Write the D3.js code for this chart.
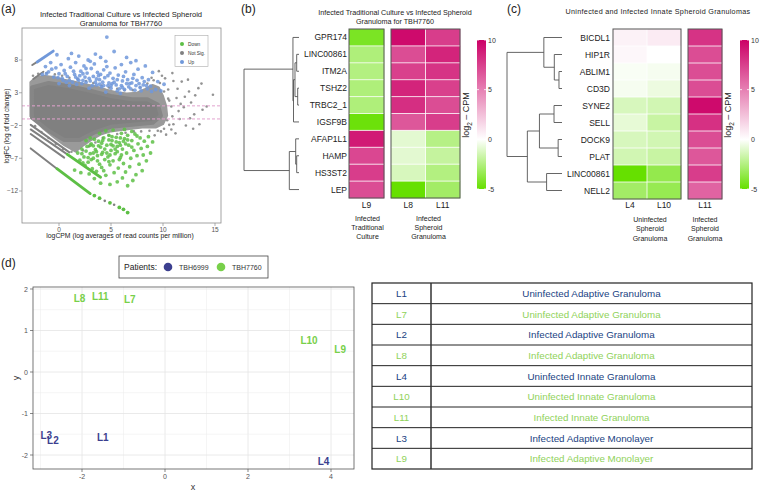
<!DOCTYPE html>
<html><head><meta charset="utf-8">
<script src="https://cdn.jsdelivr.net/npm/d3@7"></script>
<style>body{margin:0;background:#fff;} svg{display:block;font-family:"Liberation Sans",Arial,sans-serif;}</style>
</head><body><svg id="c" width="760" height="491"></svg>
<script>
// ---------------- DATA ----------------
// (a) MA plot
const maGroups = ["Down","Not Sig.","Up"];
const maUp = [[-1.6,5.8],[-1.3,7.0],[-1.0,6.2],[-0.8,7.6],[-0.5,5.4],[-0.3,6.8],[0.0,5.9],[0.2,7.3],[0.4,4.9],[0.5,6.4],[0.8,5.5],[0.9,8.2],[1.1,6.9],[1.3,4.6],[1.5,5.8],[1.6,7.6],[1.8,5.1],[1.9,8.6],[2.1,6.3],[2.2,4.4],[2.4,7.1],[2.5,5.4],[2.7,6.0],[2.8,8.0],[3.0,4.8],[3.1,6.7],[3.3,5.5],[3.4,7.4],[3.6,4.2],[3.7,6.1],[3.9,5.0],[4.0,8.4],[4.1,3.9],[4.3,6.5],[4.4,5.3],[4.6,11.5],[4.6,7.0],[4.8,4.5],[4.9,6.0],[5.0,3.7],[5.2,5.2],[5.3,9.3],[5.4,6.8],[5.5,4.2],[5.7,5.7],[5.8,3.6],[6.0,7.3],[6.1,4.8],[6.3,3.5],[6.4,6.2],[6.6,5.0],[6.7,3.9],[6.9,7.6],[7.0,4.5],[7.2,5.8],[7.3,3.4],[7.5,4.9],[7.6,6.6],[7.8,3.8],[8.0,5.3],[8.1,4.2],[8.3,7.1],[8.5,3.6],[8.6,5.0],[8.8,4.0],[9.0,6.1],[9.3,3.5],[9.5,4.7],[9.8,3.3],[10.1,4.3],[-0.2,8.8],[1.2,9.0],[3.5,8.9],[6.5,8.4],[7.4,7.9],[2.9,3.7],[1.0,4.1],[0.0,4.4],[5.9,2.9],[4.5,3.1],[0.6,5.9],[1.7,4.3],[2.3,5.9],[3.2,4.1],[3.8,5.6],[4.2,4.6],[4.7,5.6],[5.1,4.4],[5.6,5.0],[6.2,5.5],[6.8,4.4],[7.1,5.2],[7.7,4.4],[8.2,4.7],[2.6,6.7],[1.4,6.3],[-0.7,6.6],[3.0,7.8],[4.5,7.8],[0.3,5.2],[0.7,4.6],[1.9,4.9],[2.0,5.6],[2.6,4.6],[3.5,4.6],[3.9,4.3],[4.0,5.8],[4.7,4.1],[5.3,4.6],[5.6,3.3],[6.0,4.1],[6.5,4.4],[6.9,3.6],[7.4,4.1],[7.9,3.3],[8.4,4.1],[8.9,3.2],[1.6,5.4],[2.9,5.2],[3.6,5.1],[4.3,4.1],[5.0,4.1],[6.1,3.8],[-1.2,5.9],[-0.1,5.3],[1.0,4.9],[2.3,4.9]];
const maDown = [[1.8,-6.2],[2.0,-7.3],[2.2,-5.6],[2.4,-6.8],[2.5,-8.1],[2.7,-5.2],[2.8,-7.6],[3.0,-6.3],[3.1,-4.8],[3.2,-8.6],[3.3,-7.0],[3.5,-5.7],[3.6,-9.0],[3.7,-6.6],[3.8,-4.4],[3.9,-7.9],[4.0,-5.3],[4.1,-8.4],[4.2,-6.1],[4.3,-3.9],[4.4,-7.2],[4.5,-9.6],[4.6,-5.0],[4.7,-6.8],[4.8,-3.5],[4.9,-8.0],[5.0,-5.8],[5.1,-4.3],[5.2,-2.7],[5.2,-7.4],[5.3,-9.2],[5.4,-6.3],[5.5,-3.8],[5.6,-5.2],[5.7,-8.5],[5.8,-4.6],[5.9,-6.9],[6.0,-3.2],[6.1,-10.0],[6.1,-5.6],[6.2,-7.8],[6.3,-4.0],[6.4,-9.1],[6.5,-6.2],[6.6,-3.5],[6.7,-5.0],[6.8,-8.3],[6.9,-7.0],[7.0,-4.3],[7.1,-10.4],[7.2,-5.8],[7.3,-3.3],[7.4,-9.5],[7.5,-6.6],[7.6,-4.8],[7.7,-7.9],[7.8,-3.9],[7.9,-5.5],[8.0,-8.9],[8.1,-6.5],[8.2,-4.4],[8.4,-7.4],[8.5,-5.2],[8.6,-3.7],[8.8,-6.2],[9.0,-4.5],[2.9,-9.4],[3.4,-10.1],[4.0,-10.8],[4.9,-11.0],[5.6,-10.6],[6.6,-11.2],[1.5,-8.8],[2.1,-9.2],[3.0,-3.9],[3.9,-3.2],[4.5,-2.8],[6.3,-2.6],[7.0,-2.9],[2.6,-4.3],[3.3,-5.1],[4.1,-4.7],[4.6,-6.2],[5.0,-4.9],[5.4,-5.6],[3.6,-6.0],[2.3,-7.7],[4.3,-8.9],[5.8,-7.2],[6.4,-4.8],[3.1,-7.2],[4.8,-7.5],[3.4,-4.1],[3.8,-5.1],[4.2,-4.3],[4.4,-5.6],[4.8,-4.2],[5.1,-3.7],[5.5,-4.5],[5.9,-3.9],[6.2,-4.4],[6.6,-4.2],[3.0,-5.0],[2.6,-5.9],[3.3,-6.2],[4.1,-6.4],[4.9,-6.5],[5.6,-6.0],[6.0,-6.5],[7.0,-5.3],[7.5,-3.6],[2.2,-6.3],[2.8,-6.9],[3.7,-7.4],[5.2,-5.1],[5.9,-5.0]];
const maNSsparse = [[10.5,3.5],[11.0,4.8],[11.3,2.2],[11.6,-1.0],[11.8,4.7],[12.0,0.8],[12.2,-2.0],[12.5,3.2],[12.7,1.5],[13.0,-0.3],[13.1,2.6],[13.4,3.7],[13.5,-1.8],[13.8,0.4],[14.2,0.9],[14.8,2.7],[10.8,-2.6],[11.2,-3.2],[10.2,5.2],[9.6,6.3],[12.4,5.0],[11.5,0.2],[10.6,1.8],[10.4,-1.2],[12.9,-2.5],[13.7,4.4],[9.2,-3.5],[9.8,-2.9],[10.9,6.0],[-2.5,5.6],[-2.0,5.9],[-1.2,6.0],[-0.4,5.8],[0.3,5.6],[1.0,5.3],[1.8,5.1],[2.6,4.8],[3.3,4.5],[4.1,4.1],[4.8,3.8],[5.6,3.6],[6.3,3.4],[7.1,3.4],[7.8,3.8],[8.5,4.4],[9.1,4.9],[9.7,4.5],[10.1,3.2],[10.5,2.1],[10.8,0.9],[10.9,-0.6],[10.6,-1.9],[10.1,-2.5],[9.5,-2.8],[8.7,-2.8],[7.9,-2.9],[7.2,-2.9],[6.4,-3.1],[5.6,-3.3],[4.8,-3.5],[4.2,-3.9],[3.5,-4.6],[2.9,-5.2],[2.3,-5.8],[1.2,-6.0],[0.4,-5.6],[-0.3,-4.8],[-1.0,-3.9],[-1.7,-3.0],[-2.3,-2.1],[11.4,3.6],[12.1,2.4],[11.0,-1.8],[9.9,5.6],[8.9,5.3],[11.7,1.3],[10.3,-3.4],[12.6,-0.9]];
const maCloudOuter = [[-2.75,4.6],[-2.3,5.3],[-1.5,5.6],[-0.5,5.4],[0.5,5.0],[1.5,4.7],[2.5,4.3],[3.5,4.0],[4.5,3.5],[5.5,3.1],[6.5,2.9],[7.5,3.0],[8.3,3.6],[9.0,4.2],[9.6,3.8],[10.0,2.5],[10.3,1.0],[10.4,-0.5],[10.0,-1.8],[9.3,-2.3],[8.0,-2.3],[7.0,-2.5],[6.0,-2.7],[5.0,-2.9],[4.0,-3.4],[3.0,-4.3],[2.2,-5.2],[1.6,-6.0],[0.5,-5.0],[-0.5,-3.8],[-1.5,-2.5],[-2.3,-1.2],[-2.75,-0.6]];
const maCloudCore = [[-2.6,3.8],[-1.0,4.5],[1.0,4.0],[3.0,3.3],[5.0,2.5],[7.0,2.0],[8.5,2.0],[9.5,1.2],[9.8,-0.5],[9.0,-1.6],[7.0,-1.9],[5.0,-2.2],[3.5,-3.0],[2.0,-4.2],[0.5,-4.2],[-1.0,-2.8],[-2.6,-0.8]];
// low-count diagonal streaks: [start, end, group]
const maStreakFrom = [[-2.57,7.24],[-2.1,7.7],[-2.47,5.1],[-2.72,-1.9],[-2.72,-2.6],[-2.72,-3.3],[0.8,-6.4],[-2.72,-5.5],[-0.2,-8.6]];
const maStreakTo   = [[-2.1,7.7],[-0.55,9.36],[-1.5,6.2],[1.0,-6.1],[0.8,-6.4],[0.5,-6.9],[4.0,-9.9],[-0.2,-8.6],[3.0,-12.4]];
const maStreakGrp  = ["Not Sig.","Up","Not Sig.","Not Sig.","Not Sig.","Not Sig.","Down","Not Sig.","Down"];
const maTail = [[3.4,-12.7],[3.9,-13.1],[4.4,-13.5],[4.9,-13.8],[5.3,-14.1],[5.8,-14.5],[6.2,-14.8],[6.6,-15.3]];
const maTailGrp = ["Down","Down","Not Sig.","Down","Not Sig.","Down","Down","Down"];
const maXTicks = [0,5,10,15];
const maYTicks = [-12,-7,-2,3,8];
const maThresh = [1,-1];

// (b) heatmap
const hbRows = ["GPR174","LINC00861","ITM2A","TSHZ2","TRBC2_1","IGSF9B","AFAP1L1","HAMP","HS3ST2","LEP"];
const hbL9  = [-4.3,-2.6,-2.5,-2.6,-2.6,-4.8,9.0,7.2,7.6,7.0];
const hbL8  = [9.6,7.0,7.5,8.6,8.2,6.6,-0.9,-0.9,-1.3,-5.0];
const hbL11 = [7.6,8.6,8.0,7.5,7.0,7.6,-2.4,-1.9,-2.5,-3.0];
const hbTree = {h:10,children:[
  {h:1.1,children:[{name:"GPR174"},{h:1.0,children:[{h:0.73,children:[{h:0.42,children:[{name:"LINC00861"},{name:"ITM2A"}]},{h:0.24,children:[{name:"TSHZ2"},{name:"TRBC2_1"}]}]},{name:"IGSF9B"}]}]},
  {h:1.76,children:[{h:0.6,children:[{name:"AFAP1L1"},{h:0.42,children:[{name:"HAMP"},{name:"HS3ST2"}]}]},{name:"LEP"}]}]};
// (c) heatmap
const hcRows = ["BICDL1","HIP1R","ABLIM1","CD3D","SYNE2","SELL","DOCK9","PLAT","LINC00861","NELL2"];
const hcL4  = [0.5,0.3,-0.2,-0.3,-1.3,-0.8,-1.3,-1.5,-5.0,-3.0];
const hcL10 = [0.8,0.0,-0.3,-0.6,-1.5,-1.8,-1.5,-1.8,-3.5,-3.4];
const hcL11 = [8.0,7.0,7.0,7.0,9.6,8.1,7.0,6.6,7.6,6.1];
const hcTree = {h:10,children:[
  {h:3.3,children:[{name:"BICDL1"},{h:1.4,children:[{name:"HIP1R"},{h:0.55,children:[{name:"ABLIM1"},{name:"CD3D"}]}]}]},
  {h:6.3,children:[{h:4.1,children:[{h:1.45,children:[{name:"SYNE2"},{name:"SELL"}]},{h:0.7,children:[{name:"DOCK9"},{name:"PLAT"}]}]},{h:2.8,children:[{name:"LINC00861"},{name:"NELL2"}]}]}]};
const cbTicks = [10,5,0,-5];

// (d) MDS
const mdsLabels  = ["L1","L2","L3","L4","L7","L8","L9","L10","L11"];
const mdsX       = [-1.5,-2.7,-2.86,3.82,-0.85,-2.06,4.22,3.47,-1.56];
const mdsY       = [-1.57,-1.66,-1.54,-2.16,1.74,1.78,0.55,0.77,1.83];
const mdsPatient = ["TBH6999","TBH6999","TBH6999","TBH6999","TBH7760","TBH7760","TBH7760","TBH7760","TBH7760"];
const patients = ["TBH6999","TBH7760"];
const mdsXTicks = [-2,0,2,4];
const mdsYTicks = [-2,-1,0,1,2];

// table
const tblIds  = ["L1","L7","L2","L8","L4","L10","L11","L3","L9"];
const tblDesc = ["Uninfected Adaptive Granuloma","Uninfected Adaptive Granuloma","Infected Adaptive Granuloma","Infected Adaptive Granuloma","Uninfected Innate Granuloma","Uninfected Innate Granuloma","Infected Innate Granuloma","Infected Adaptive Monolayer","Infected Adaptive Monolayer"];
const tblPatient = ["TBH6999","TBH7760","TBH6999","TBH7760","TBH6999","TBH7760","TBH7760","TBH6999","TBH7760"];

// ---------------- DRAW ----------------
const svg = d3.select("#c");
const defs = svg.append("defs");

// ===== (a) =====
const gA = svg.append("g");
const xA = d3.scaleLinear().domain([0,15]).range([59,215]);
const yA = d3.scaleLinear().domain([8,-12]).range([60,191]);
const fA = {x0:22,x1:221,y0:28,y1:223};
const maColor = d3.scaleOrdinal().domain(maGroups).range(["#5dbf45","#808080","#7098da"]);
defs.append("clipPath").attr("id","clipA").append("rect").attr("x",fA.x0).attr("y",fA.y0).attr("width",fA.x1-fA.x0).attr("height",fA.y1-fA.y0);
const pA = gA.append("g").attr("clip-path","url(#clipA)");
const line = d3.line().x(d=>xA(d[0])).y(d=>yA(d[1]));
pA.append("path").attr("d",line(maCloudOuter)+"Z").attr("fill","#9a9a9a").attr("stroke","#9a9a9a").attr("stroke-width",2).attr("stroke-linejoin","round");
pA.append("path").attr("d",line(maCloudCore)+"Z").attr("fill","#808080").attr("stroke","#868686").attr("stroke-width",4).attr("stroke-linejoin","round");
pA.selectAll(".ns").data(maNSsparse).enter().append("circle").attr("cx",d=>xA(d[0])).attr("cy",d=>yA(d[1])).attr("r",1.3).attr("fill","#808080").attr("opacity",0.85);
maStreakFrom.forEach((s,i)=>{
  pA.append("path").attr("d",line([s,maStreakTo[i]])).attr("stroke",maColor(maStreakGrp[i])).attr("stroke-width",maStreakGrp[i]==="Not Sig."?2:2.8).attr("stroke-linecap","round").attr("fill","none");
});
pA.selectAll(".tail").data(maTail).enter().append("circle").attr("cx",d=>xA(d[0])).attr("cy",d=>yA(d[1])).attr("r",(d,i)=>maTailGrp[i]==="Down"?1.9:1.3).attr("fill",(d,i)=>maColor(maTailGrp[i]));
pA.selectAll(".dn").data(maDown).enter().append("circle").attr("cx",d=>xA(d[0])).attr("cy",d=>yA(d[1])).attr("r",1.9).attr("fill",maColor("Down")).attr("opacity",0.85);
pA.selectAll(".up").data(maUp).enter().append("circle").attr("cx",d=>xA(d[0])).attr("cy",d=>yA(d[1])).attr("r",1.9).attr("fill",maColor("Up")).attr("opacity",0.85);
maThresh.forEach(t=>pA.append("line").attr("x1",fA.x0).attr("x2",fA.x1).attr("y1",yA(t)).attr("y2",yA(t)).attr("stroke","#e3a2cf").attr("stroke-width",1).attr("stroke-dasharray","3,2"));
gA.append("rect").attr("x",fA.x0).attr("y",fA.y0).attr("width",fA.x1-fA.x0).attr("height",fA.y1-fA.y0).attr("fill","none").attr("stroke","#8c8c8c").attr("stroke-width",0.8);
maXTicks.forEach(t=>{
  gA.append("line").attr("x1",xA(t)).attr("x2",xA(t)).attr("y1",fA.y1).attr("y2",fA.y1+3).attr("stroke","#8c8c8c").attr("stroke-width",0.7);
  gA.append("text").attr("x",xA(t)).attr("y",fA.y1+9).attr("text-anchor","middle").attr("font-size",6.5).attr("fill","#555").text(t);
});
maYTicks.forEach(t=>{
  gA.append("line").attr("x1",fA.x0-3).attr("x2",fA.x0).attr("y1",yA(t)).attr("y2",yA(t)).attr("stroke","#8c8c8c").attr("stroke-width",0.7);
  gA.append("text").attr("x",fA.x0-4).attr("y",yA(t)+2.3).attr("text-anchor","end").attr("font-size",6.5).attr("fill","#555").text(t<0?"\u2212"+(-t):t);
});
gA.append("text").attr("x",120).attr("y",238).attr("text-anchor","middle").attr("font-size",6.8).attr("fill","#222").text("logCPM (log averages of read counts per million)");
gA.append("text").attr("transform","translate(9,126) rotate(-90)").attr("text-anchor","middle").attr("font-size",6.5).attr("fill","#222").text("logFC (log of fold change)");
gA.append("text").attr("x",121).attr("y",17).attr("text-anchor","middle").attr("font-size",7.6).attr("fill","#222").text("Infected Traditional Culture vs Infected Spheroid");
gA.append("text").attr("x",121).attr("y",25.5).attr("text-anchor","middle").attr("font-size",7.6).attr("fill","#222").text("Granuloma for TBH7760");
gA.append("text").attr("x",1).attr("y",13).attr("font-size",12).attr("fill","#222").text("(a)");
// legend a
const lgA = gA.append("g");
lgA.append("rect").attr("x",175).attr("y",35.5).attr("width",33).attr("height",31).attr("fill","#fff").attr("stroke","#aaa").attr("stroke-width",0.6);
maGroups.forEach((g,i)=>{
  lgA.append("circle").attr("cx",182).attr("cy",44+i*9).attr("r",2).attr("fill",maColor(g));
  lgA.append("text").attr("x",188).attr("y",45.8+i*9).attr("font-size",4.8).attr("fill","#333").text(g);
});

// ===== heatmaps =====
const colorHM = d3.scaleLinear().domain([-5,0,10]).range(["#66e000","#ffffff","#cc0066"]).clamp(true);
function drawHeat(g, rows, blocks, y0, y1, tree, tipX, rootX, labelX, colLabelY, groupY){
  const y = d3.scaleBand().domain(rows).range([y0,y1]);
  blocks.forEach(b=>{
    const names = b.cols.map(c=>c.name);
    const x = d3.scaleBand().domain(names).range([b.x0,b.x1]);
    b.cols.forEach(c=>{
      g.selectAll(null).data(rows.map((r,i)=>({r,v:c.vals[i]}))).enter().append("rect")
        .attr("x",x(c.name)).attr("y",d=>y(d.r)).attr("width",x.bandwidth()+0.3).attr("height",y.bandwidth()+0.3)
        .attr("fill",d=>colorHM(d.v));
      g.append("text").attr("x",x(c.name)+x.bandwidth()/2).attr("y",colLabelY).attr("text-anchor","middle").attr("font-size",8.5).attr("fill","#222").text(c.name);
    });
    rows.slice(1).forEach(r=>g.append("line").attr("x1",b.x0).attr("x2",b.x1).attr("y1",y(r)).attr("y2",y(r)).attr("stroke","#fff").attr("stroke-width",0.8));
    names.slice(1).forEach(n=>g.append("line").attr("x1",x(n)).attr("x2",x(n)).attr("y1",y0).attr("y2",y1).attr("stroke","#fff").attr("stroke-width",0.8));
    g.append("rect").attr("x",b.x0).attr("y",y0).attr("width",b.x1-b.x0).attr("height",y1-y0).attr("fill","none").attr("stroke","#555").attr("stroke-width",1);
    const gt = g.append("text").attr("text-anchor","middle").attr("font-size",7).attr("fill","#222");
    b.group.forEach((s,i)=>gt.append("tspan").attr("x",(b.x0+b.x1)/2+b.gdx).attr("y",groupY+i*9.4).text(s));
  });
  rows.forEach(r=>g.append("text").attr("x",labelX).attr("y",y(r)+y.bandwidth()/2+3).attr("text-anchor","end").attr("font-size",8.5).attr("fill","#222").text(r));
  const root = d3.hierarchy(tree);
  root.eachAfter(n=>{
    if(!n.children){ n.yy = y(n.data.name)+y.bandwidth()/2; n.hh = 0; }
    else { n.yy = d3.mean(n.children,c=>c.yy); n.hh = n.data.h; }
  });
  const xs = d3.scaleLinear().domain([0,root.data.h]).range([tipX,rootX]);
  root.each(n=>{
    if(!n.children) return;
    g.append("line").attr("x1",xs(n.hh)).attr("x2",xs(n.hh)).attr("y1",d3.min(n.children,c=>c.yy)).attr("y2",d3.max(n.children,c=>c.yy)).attr("stroke","#555").attr("stroke-width",0.9);
    n.children.forEach(c=>g.append("line").attr("x1",xs(n.hh)).attr("x2",xs(c.hh)).attr("y1",c.yy).attr("y2",c.yy).attr("stroke","#555").attr("stroke-width",0.9));
  });
}
function drawColorbar(g, id, x0, w, yTop, yBot, labelX){
  const yc = d3.scaleLinear().domain([10,-5]).range([yTop,yBot]);
  const grad = defs.append("linearGradient").attr("id",id).attr("x1",0).attr("x2",0).attr("y1",0).attr("y2",1);
  [10,5,0,-2.5,-5].forEach(v=>grad.append("stop").attr("offset",(yc(v)-yTop)/(yBot-yTop)).attr("stop-color",colorHM(v)));
  g.append("rect").attr("x",x0).attr("y",yTop).attr("width",w).attr("height",yBot-yTop).attr("fill",`url(#${id})`);
  cbTicks.forEach(t=>{
    g.append("line").attr("x1",x0).attr("x2",x0+2).attr("y1",yc(t)).attr("y2",yc(t)).attr("stroke","#fff").attr("stroke-width",0.8);
    g.append("line").attr("x1",x0+w-2).attr("x2",x0+w).attr("y1",yc(t)).attr("y2",yc(t)).attr("stroke","#fff").attr("stroke-width",0.8);
    g.append("text").attr("x",x0+w+2).attr("y",yc(t)+2.5).attr("font-size",7).attr("fill","#333").text(t<0?"-"+(-t):t);
  });
  const lt = g.append("text").attr("transform",`translate(${labelX},115) rotate(-90)`).attr("text-anchor","middle").attr("font-size",9).attr("fill","#222");
  lt.append("tspan").text("log");
  lt.append("tspan").attr("font-size",6.5).attr("dy",2.5).text("2");
  lt.append("tspan").attr("dy",-2.5).text(" \u2013 CPM");
}
const gB = svg.append("g");
gB.append("text").attr("x",241).attr("y",13).attr("font-size",12).attr("fill","#222").text("(b)");
gB.append("text").attr("x",395).attr("y",15).attr("text-anchor","middle").attr("font-size",7.2).attr("fill","#222").text("Infected Traditional Culture vs Infected Spheroid");
gB.append("text").attr("x",395).attr("y",23.5).attr("text-anchor","middle").attr("font-size",7.2).attr("fill","#222").text("Granuloma for TBH7760");
drawHeat(gB, hbRows, [
  {x0:349,x1:384,cols:[{name:"L9",vals:hbL9}],group:["Infected","Traditional","Culture"],gdx:1},
  {x0:391,x1:460,cols:[{name:"L8",vals:hbL8},{name:"L11",vals:hbL11}],group:["Infected","Spheroid","Granuloma"],gdx:3}
], 29, 198, hbTree, 299, 244, 347, 207.5, 220.5);
drawColorbar(gB,"gradB",477,9,40,189,469);

const gC = svg.append("g");
gC.append("text").attr("x",507).attr("y",13).attr("font-size",12).attr("fill","#222").text("(c)");
gC.append("text").attr("x",658).attr("y",14).attr("text-anchor","middle").attr("font-size",7.2).attr("letter-spacing",0.3).attr("fill","#222").text("Uninfected and Infected Innate Spheroid Granulomas");
drawHeat(gC, hcRows, [
  {x0:613,x1:681,cols:[{name:"L4",vals:hcL4},{name:"L10",vals:hcL10}],group:["Uninfected","Spheroid","Granuloma"],gdx:3},
  {x0:688,x1:722,cols:[{name:"L11",vals:hcL11}],group:["Infected","Spheroid","Granuloma"],gdx:0}
], 29, 199, hcTree, 562, 507, 610, 207.5, 222);
drawColorbar(gC,"gradC",740,9,40,189,731);

// ===== (d) =====
const gD = svg.append("g");
const xD = d3.scaleLinear().domain([0,2]).range([165,248]);
const yD = d3.scaleLinear().domain([0,2]).range([372,289]);
const fD = {x0:33,x1:354,y0:287,y1:469};
const patColor = d3.scaleOrdinal().domain(patients).range(["#3c3f8f","#78d04a"]);
gD.append("text").attr("x",1).attr("y",267).attr("font-size",12).attr("fill","#222").text("(d)");
d3.range(-3,5,1).forEach(v=>{ const px=xD(v); if(px>fD.x0&&px<fD.x1) gD.append("line").attr("x1",px).attr("x2",px).attr("y1",fD.y0).attr("y2",fD.y1).attr("stroke",v%2===0?"#e4e4e4":"#efefef").attr("stroke-width",v%2===0?0.8:0.6); });
d3.range(-2.5,2.5,0.5).forEach(v=>{ const py=yD(v); if(py>fD.y0&&py<fD.y1) gD.append("line").attr("x1",fD.x0).attr("x2",fD.x1).attr("y1",py).attr("y2",py).attr("stroke",Number.isInteger(v)?"#e4e4e4":"#efefef").attr("stroke-width",Number.isInteger(v)?0.8:0.6); });
gD.append("rect").attr("x",fD.x0).attr("y",fD.y0).attr("width",fD.x1-fD.x0).attr("height",fD.y1-fD.y0).attr("fill","none").attr("stroke","#555").attr("stroke-width",0.8);
mdsXTicks.forEach(t=>{
  gD.append("line").attr("x1",xD(t)).attr("x2",xD(t)).attr("y1",fD.y1).attr("y2",fD.y1+3).attr("stroke","#555").attr("stroke-width",0.7);
  gD.append("text").attr("x",xD(t)).attr("y",fD.y1+10).attr("text-anchor","middle").attr("font-size",7).attr("fill","#555").text(t<0?"-"+(-t):t);
});
mdsYTicks.forEach(t=>{
  gD.append("line").attr("x1",fD.x0-3).attr("x2",fD.x0).attr("y1",yD(t)).attr("y2",yD(t)).attr("stroke","#555").attr("stroke-width",0.7);
  gD.append("text").attr("x",fD.x0-5).attr("y",yD(t)+2.5).attr("text-anchor","end").attr("font-size",7).attr("fill","#555").text(t<0?"-"+(-t):t);
});
gD.append("text").attr("x",193).attr("y",490).attr("text-anchor","middle").attr("font-size",9).attr("fill","#333").text("x");
gD.append("text").attr("transform","translate(19,378) rotate(-90)").attr("text-anchor","middle").attr("font-size",9).attr("fill","#333").text("y");
gD.selectAll(".lab").data(mdsLabels).enter().append("text").attr("x",(d,i)=>xD(mdsX[i])).attr("y",(d,i)=>yD(mdsY[i])+3.5).attr("text-anchor","middle").attr("font-size",10).attr("font-weight","bold").attr("fill",(d,i)=>patColor(mdsPatient[i])).text(d=>d);
// legend d
gD.append("rect").attr("x",119).attr("y",256).attr("width",149).attr("height",22).attr("fill","#fff").attr("stroke","#444").attr("stroke-width",0.8);
gD.append("text").attr("x",124).attr("y",270).attr("font-size",8.5).attr("fill","#222").text("Patients:");
patients.forEach((p,i)=>{
  gD.append("circle").attr("cx",168+i*53).attr("cy",267).attr("r",4.3).attr("fill",patColor(p));
  gD.append("text").attr("x",179+i*53).attr("y",269.5).attr("font-size",7).attr("fill","#333").text(p);
});

// ===== table =====
const gT = svg.append("g");
const tX0=372, tX1=752, tDiv=431, tY0=283, tY1=469;
const tyS = d3.scaleBand().domain(tblIds).range([tY0,tY1]);
const tblColor = d3.scaleOrdinal().domain(patients).range(["#203f82","#8fd25a"]);
tblIds.forEach((id,i)=>{
  const yy = tyS(id)+tyS.bandwidth()/2+3.5;
  gT.append("text").attr("x",(tX0+tDiv)/2).attr("y",yy).attr("text-anchor","middle").attr("font-size",9.8).attr("fill",tblColor(tblPatient[i])).text(id);
  gT.append("text").attr("x",(tDiv+tX1)/2).attr("y",yy).attr("text-anchor","middle").attr("font-size",9.8).attr("fill",tblColor(tblPatient[i])).text(tblDesc[i]);
  if(i>0) gT.append("line").attr("x1",tX0).attr("x2",tX1).attr("y1",tyS(id)).attr("y2",tyS(id)).attr("stroke","#222").attr("stroke-width",1);
});
gT.append("rect").attr("x",tX0).attr("y",tY0).attr("width",tX1-tX0).attr("height",tY1-tY0).attr("fill","none").attr("stroke","#222").attr("stroke-width",1.2);
gT.append("line").attr("x1",tDiv).attr("x2",tDiv).attr("y1",tY0).attr("y2",tY1).attr("stroke","#333").attr("stroke-width",1.5);
</script></body></html>
